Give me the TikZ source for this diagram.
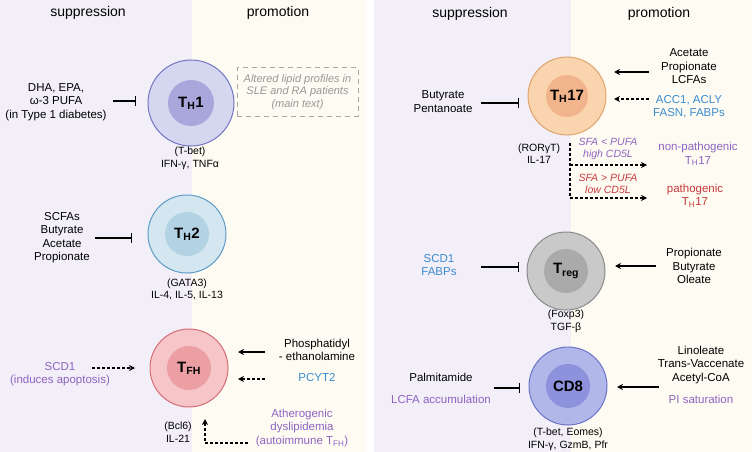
\documentclass[tikz,border=0pt]{standalone}
\usepackage{fontspec}
\setmainfont{Liberation Sans}
\usetikzlibrary{arrows.meta}
\definecolor{bgL}{HTML}{F3EFF8}
\definecolor{bgR}{HTML}{FEFCF2}
\definecolor{txtblue}{HTML}{3A8BD0}
\definecolor{txtpurple}{HTML}{8E63C2}
\definecolor{txtred}{HTML}{C8393B}
\definecolor{boxgrey}{HTML}{A8A8A8}
\definecolor{thAo}{HTML}{D5D6F0}\definecolor{thAb}{HTML}{7075C2}\definecolor{thAi}{HTML}{A9A6DB}
\definecolor{thBo}{HTML}{D4E7F0}\definecolor{thBb}{HTML}{5C9BC8}\definecolor{thBi}{HTML}{B3D3E4}
\definecolor{tfo}{HTML}{F6C5C7}\definecolor{tfb}{HTML}{D56D74}\definecolor{tfi}{HTML}{EC9FA3}
\definecolor{t17o}{HTML}{FAD4AF}\definecolor{t17b}{HTML}{DFA46B}\definecolor{t17i}{HTML}{F2B48B}
\definecolor{tro}{HTML}{C9C9C9}\definecolor{trb}{HTML}{8A8A8A}\definecolor{tri}{HTML}{AAAAAA}
\definecolor{cdo}{HTML}{B1B7E9}\definecolor{cdb}{HTML}{6C73C9}\definecolor{cdi}{HTML}{8E91DB}
\tikzset{
  txt/.style={font=\fontsize{11.5}{13.5}\selectfont, align=center, inner sep=0pt},
  small/.style={font=\fontsize{10.5}{12.5}\selectfont, align=center, inner sep=0pt},
  hdr/.style={font=\fontsize{14}{16}\selectfont, inner sep=0pt},
  outer/.style={circle, line width=1pt, inner sep=0pt},
  inner/.style={circle, inner sep=0pt, font=\fontsize{15}{15}\selectfont\bfseries},
  arr/.style={line width=1.2pt, -{Stealth[length=6pt,width=6pt]}},
  darr/.style={arr, dash pattern=on 3pt off 2pt},
  inh/.style={line width=1.2pt, -{Bar[width=10pt,line width=1.2pt]}},
}
\begin{document}
\begin{tikzpicture}[x=1pt,y=-1pt]
\useasboundingbox (0,0) rectangle (752,452);
% backgrounds
\fill[bgL] (0,0) rectangle (192,452);
\fill[bgR] (192,0) rectangle (366,452);
\fill[bgL] (374,0) rectangle (571,452);
\fill[bgR] (571,0) rectangle (752,452);
% headers
\node[hdr] (hL1) at (88,13) {suppression};
\node[hdr] (hL2) at (278,13) {promotion};
\node[hdr] (hR1) at (470,14) {suppression};
\node[hdr] (hR2) at (659,14) {promotion};

% ---------- TH1
\node[outer, draw=thAb, fill=thAo, minimum size=86pt] (th1) at (191,103) {};
\node[inner, fill=thAi, minimum size=46pt] (th1i) at (191,103) {T\textsubscript{H}1};
\node[small] (th1l) at (190,158.5) {(T-bet)\\IFN-γ, TNFα};
\node[txt] (dha) at (56,102) {DHA, EPA,\\ω-3 PUFA\\(in Type 1 diabetes)};
\coordinate (i1s) at (113,101); \coordinate (i1e) at (136,101);
\draw[inh] (i1s) -- (i1e);
\node[draw=boxgrey, line width=1pt, dash pattern=on 5pt off 4pt, minimum width=121pt, minimum height=48pt, inner sep=0pt] (box) at (297.5,92) {};
\node[txt, text=boxgrey!90!black, font=\fontsize{11}{12.5}\selectfont\itshape] (boxt) at (297.5,92) {Altered lipid profiles in\\SLE and RA patients\\(main text)};

% ---------- TH2
\node[outer, draw=thBb, fill=thBo, minimum size=78pt] (th2) at (187,234) {};
\node[inner, fill=thBi, minimum size=44pt] (th2i) at (187,234) {T\textsubscript{H}2};
\node[small] (th2l) at (187,289.5) {(GATA3)\\IL-4, IL-5, IL-13};
\node[txt] (scfa) at (62,237.5) {SCFAs\\Butyrate\\Acetate\\Propionate};
\coordinate (i2s) at (95,238); \coordinate (i2e) at (132,238);
\draw[inh] (i2s) -- (i2e);

% ---------- TFH
\node[outer, draw=tfb, fill=tfo, minimum size=78pt] (tfh) at (189,368) {};
\node[inner, fill=tfi, minimum size=44pt] (tfhi) at (189,368) {T\textsubscript{FH}};
\node[small] (tfhl) at (178,432) {(Bcl6)\\IL-21};
\node[txt, text=txtpurple] (scd1a) at (60,374) {SCD1\\(induces apoptosis)};
\coordinate (d1s) at (92,368); \coordinate (d1e) at (135,368);
\draw[darr] (d1s) -- (d1e);
\node[txt] (pe) at (317,350) {Phosphatidyl\\- ethanolamine};
\coordinate (a1s) at (265,352); \coordinate (a1e) at (238,352);
\draw[arr] (a1s) -- (a1e);
\node[txt, text=txtblue] (pcyt) at (317,378) {PCYT2};
\coordinate (d2s) at (265,379); \coordinate (d2e) at (238,379);
\draw[darr] (d2s) -- (d2e);
\node[txt, text=txtpurple] (ath) at (302,428) {Atherogenic\\dyslipidemia\\(autoimmune T\textsubscript{FH})};
\coordinate (d3s) at (248,443); \coordinate (d3m) at (205,443); \coordinate (d3e) at (205,419);
\draw[darr] (d3s) -- (d3m) -- (d3e);

% ---------- TH17
\node[outer, draw=t17b, fill=t17o, minimum size=78pt] (th17) at (567,96) {};
\node[inner, fill=t17i, minimum size=42pt] (th17i) at (567,96) {T\textsubscript{H}17};
\node[small] (th17l) at (539,153.5) {(RORγT)\\IL-17};
\node[txt] (but) at (443,101.5) {Butyrate\\Pentanoate};
\coordinate (i3s) at (481,103); \coordinate (i3e) at (519,103);
\draw[inh] (i3s) -- (i3e);
\node[txt] (ace) at (689,66.5) {Acetate\\Propionate\\LCFAs};
\coordinate (a2s) at (649,72); \coordinate (a2e) at (614,72);
\draw[arr] (a2s) -- (a2e);
\node[txt, text=txtblue] (acc) at (689,106.5) {ACC1, ACLY\\FASN, FABPs};
\coordinate (d4s) at (649,99); \coordinate (d4e) at (614,99);
\draw[darr] (d4s) -- (d4e);
\coordinate (b0) at (570,143); \coordinate (b1) at (570,165); \coordinate (b2) at (570,198);
\coordinate (b1e) at (647,165); \coordinate (b2e) at (647,198);
\draw[line width=1.2pt, dash pattern=on 3pt off 2pt] (b0) -- (b2);
\draw[darr] (b1) -- (b1e);
\draw[darr] (b2) -- (b2e);
\node[small, text=txtpurple, font=\fontsize{10.5}{12}\selectfont\itshape] (sfa1) at (608,149) {SFA < PUFA\\high CD5L};
\node[small, text=txtred, font=\fontsize{10.5}{12}\selectfont\itshape] (sfa2) at (608,184) {SFA > PUFA\\low CD5L};
\node[txt, text=txtpurple] (np) at (698,154) {non-pathogenic\\T\textsubscript{H}17};
\node[txt, text=txtred] (pa) at (695,195.5) {pathogenic\\T\textsubscript{H}17};

% ---------- Treg
\node[outer, draw=trb, fill=tro, minimum size=78pt] (treg) at (566,271) {};
\node[inner, fill=tri, minimum size=44pt] (tregi) at (566,271) {T\textsubscript{reg}};
\node[small] (tregl) at (566,321.5) {(Foxp3)\\TGF-β};
\node[txt, text=txtblue] (scd1b) at (439,265) {SCD1\\FABPs};
\coordinate (i4s) at (481,267); \coordinate (i4e) at (519,267);
\draw[inh] (i4s) -- (i4e);
\node[txt] (pbo) at (694,266) {Propionate\\Butyrate\\Oleate};
\coordinate (a3s) at (656,266); \coordinate (a3e) at (615,266);
\draw[arr] (a3s) -- (a3e);

% ---------- CD8
\node[outer, draw=cdb, fill=cdo, minimum size=78pt] (cd8) at (568,386) {};
\node[inner, fill=cdi, minimum size=44pt] (cd8i) at (568,386) {CD8};
\node[small] (cd8l) at (568,439.5) {(T-bet, Eomes)\\IFN-γ, GzmB, Pfr};
\node[txt] (palm) at (441,377) {Palmitamide};
\node[txt, text=txtpurple] (lcfa) at (441,399) {LCFA accumulation};
\coordinate (i5s) at (494,388); \coordinate (i5e) at (520,388);
\draw[inh] (i5s) -- (i5e);
\node[txt] (lin) at (701,365) {Linoleate\\Trans-Vaccenate\\Acetyl-CoA};
\node[txt, text=txtpurple] (pis) at (701,399) {PI saturation};
\coordinate (a4s) at (659,387); \coordinate (a4e) at (617,387);
\draw[arr] (a4s) -- (a4e);
\end{tikzpicture}
\end{document}
